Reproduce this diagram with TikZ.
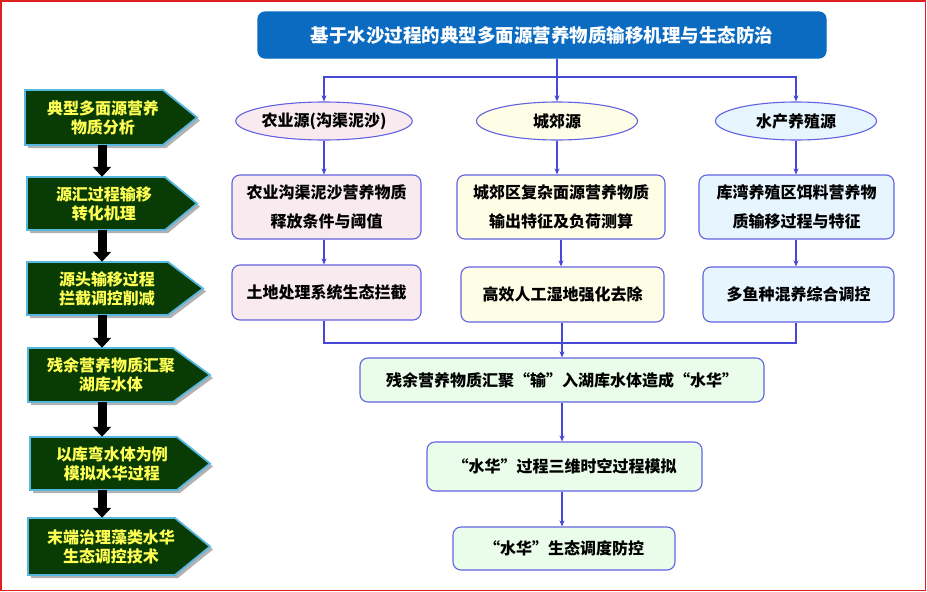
\documentclass[tikz,border=0pt]{standalone}
\usepackage{fontspec}
\setmainfont{Noto Sans CJK SC}
\usetikzlibrary{arrows.meta,shapes.geometric,calc}
\definecolor{titleblue}{HTML}{0A6BC1}
\definecolor{connc}{HTML}{4848D8}
\definecolor{bord}{HTML}{6262E2}
\definecolor{fpink}{HTML}{F9EAF0}
\definecolor{fyel}{HTML}{FEFEE6}
\definecolor{fblue}{HTML}{E6F5FE}
\definecolor{fgreen}{HTML}{EAFDEA}
\definecolor{dgreen}{HTML}{083C04}
\definecolor{lcyan}{HTML}{55B8E0}
\definecolor{ltxt}{HTML}{FFFF55}
\definecolor{framec}{HTML}{DD2020}
\tikzset{
 conn/.style={draw=connc, line width=1.1pt},
 arr/.style={conn, -{Stealth[length=6pt,width=5pt]}},
 box/.style={draw=bord, line width=1.1pt, rounded corners=8pt, align=center,
   font=\fontsize{16}{29}\selectfont\bfseries, inner sep=0pt},
 ell/.style={ellipse, draw=bord, line width=1.1pt, font=\fontsize{16}{19}\selectfont\bfseries,
   inner sep=0pt, minimum width=161pt, minimum height=38pt},
 leftshape/.style={fill=dgreen, draw=lcyan, line width=1.8pt, line join=miter},
 shadowc/.style={fill=black!30},
 lefttxt/.style={text=ltxt, align=center, font=\fontsize{16}{19}\selectfont\bfseries, inner sep=0pt},
 blk/.style={line width=9pt, draw=black, -{Triangle[width=18pt,length=10pt]}}
}
\newcommand\mkleft[7]{%
 \fill[shadowc] (#2+3,#5+3) -- (#3+3,#5+3) -- (#4+3,{(#5+#6)/2+3}) -- (#3+3,#6+3) -- (#2+3,#6+3) -- cycle;
 \draw[leftshape] (#2,#5) -- (#3,#5) -- (#4,{(#5+#6)/2}) -- (#3,#6) -- (#2,#6) -- cycle;
 \node[lefttxt, minimum height=#6-#5] (#1) at ({(#2+#4)/2-8},{(#5+#6)/2}) {#7};
}
\begin{document}
\begin{tikzpicture}[x=1pt,y=-1pt]
\useasboundingbox (0,0) rectangle (927,592);
\fill[white] (0,0) rectangle (927,592);
\draw[draw=framec, line width=1.5pt] (1,1) rectangle (925.5,590.5);

% left column
\mkleft{L1}{25}{163}{197}{90}{145}{典型多面源营养\\物质分析}
\mkleft{L2}{27}{165}{197}{177}{230}{源汇过程输移\\转化机理}
\mkleft{L3}{27}{168}{203}{262}{315}{源头输移过程\\拦截调控削减}
\mkleft{L4}{28}{173}{210}{348}{402}{残余营养物质汇聚\\湖库水体}
\mkleft{L5}{30}{177}{210}{437}{490}{以库弯水体为例\\模拟水华过程}
\mkleft{L6}{28}{175}{210}{518}{575}{末端治理藻类水华\\生态调控技术}
\coordinate (AX) at (102,0);
\draw[blk] (L1.south -| AX) -- (L2.north -| AX);
\draw[blk] (L2.south -| AX) -- (L3.north -| AX);
\draw[blk] (L3.south -| AX) -- (L4.north -| AX);
\draw[blk] (L4.south -| AX) -- (L5.north -| AX);
\draw[blk] (L5.south -| AX) -- (L6.north -| AX);

% right side
\node[box, fill=titleblue, draw=titleblue, text=white, font=\fontsize{18.5}{22}\selectfont\bfseries,
  minimum width=568pt, minimum height=46pt, rounded corners=7pt] (T) at (542,35)
  {基于水沙过程的典型多面源营养物质输移机理与生态防治};

\node[ell, fill=fpink] (E1) at (324,121) {农业源(沟渠泥沙)};
\node[ell, fill=fyel] (E2) at (557,121) {城郊源};
\node[ell, fill=fblue] (E3) at (796,121) {水产养殖源};

\node[box, fill=fpink, minimum width=189pt, minimum height=64pt] (B1) at (326.5,207) {农业沟渠泥沙营养物质\\释放条件与阈值};
\node[box, fill=fyel, minimum width=208pt, minimum height=64pt] (B2) at (561,207) {城郊区复杂面源营养物质\\输出特征及负荷测算};
\node[box, fill=fblue, minimum width=195pt, minimum height=64pt] (B3) at (796.5,207) {库湾养殖区饵料营养物\\质输移过程与特征};

\node[box, fill=fpink, minimum width=189pt, minimum height=55pt] (C1) at (326.5,292.5) {土地处理系统生态拦截};
\node[box, fill=fyel, minimum width=203pt, minimum height=55pt] (C2) at (562.5,294.5) {高效人工湿地强化去除};
\node[box, fill=fblue, minimum width=191pt, minimum height=55pt] (C3) at (798.5,294.5) {多鱼种混养综合调控};

\node[box, fill=fgreen, minimum width=404pt, minimum height=44pt] (D) at (562,380) {残余营养物质汇聚“输”入湖库水体造成“水华”};
\node[box, fill=fgreen, minimum width=275pt, minimum height=49pt] (E) at (564.5,466.5) {“水华”过程三维时空过程模拟};
\node[box, fill=fgreen, minimum width=222pt, minimum height=43pt] (F) at (564,548.5) {“水华”生态调度防控};

\coordinate (J1) at (557,77);
\draw[arr] (T.south -| E2.north) -- (E2.north);
\draw[arr] (J1) -| (E1.north);
\draw[arr] (J1) -| (E3.north);
\draw[arr] (E1.south) -- (E1.south |- B1.north);
\draw[arr] (E2.south) -- (E2.south |- B2.north);
\draw[arr] (E3.south) -- (E3.south |- B3.north);
\draw[arr] (B1.south -| E1.south) -- (C1.north -| E1.south);
\draw[arr] (B2.south) -- (B2.south |- C2.north);
\draw[arr] (B3.south -| E3.south) -- (C3.north -| E3.south);
\coordinate (J2) at (562,343);
\draw[conn] (C1.south -| E1.south) |- (J2);
\draw[conn] (C3.south -| E3.south) |- (J2);
\draw[arr] (C2.south -| D.north) -- (D.north);
\draw[arr] (D.south) -- (D.south |- E.north);
\draw[arr] (E.south -| D.south) -- (F.north -| D.south);
\end{tikzpicture}
\end{document}
